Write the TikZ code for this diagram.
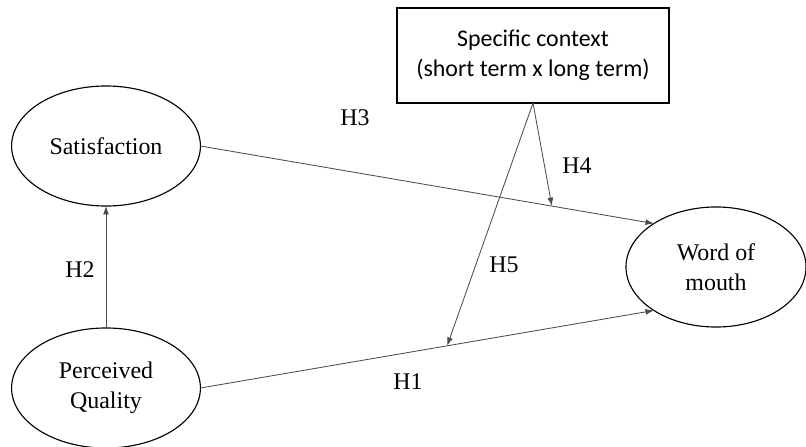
\documentclass[tikz,border=0pt]{standalone}
\usepackage{fontspec}
\setmainfont{Liberation Serif}
\newfontfamily\boxfont{Carlito}
\usetikzlibrary{arrows.meta,shapes.geometric,calc}

\begin{document}
\begin{tikzpicture}[x=0.025cm,y=-0.025cm,
    every node/.style={inner sep=0,outer sep=0},
    construct/.style={ellipse,draw=black,line width=0.8pt,minimum width=4.72cm,minimum height=3cm,
        align=center,font=\fontsize{17}{21.3}\selectfont},
    moderator/.style={rectangle,draw=black,line width=0.8pt,minimum width=6.8cm,minimum height=2.375cm,
        align=center,font=\boxfont\fontsize{17}{21.3}\selectfont},
    hyp/.style={font=\fontsize{17}{20}\selectfont},
    link/.style={draw=black!70,line width=0.6pt,-{Latex[length=6pt,width=4.2pt]}}]
    \useasboundingbox (0,0) rectangle (806,446);
    \node[construct](sat) at (106,146) {Satisfaction};
    \node[construct](pq)  at (106,388) {Perceived\\Quality};
    \node[construct,minimum width=4.5cm](wom) at (716,267) {Word of\\mouth};
    \node[moderator](ctx) at (533,55.5) {Specific context\\(short term x long term)};
    \draw[link] (pq) -- (sat);
    \draw[link] (sat.east) -- coordinate[pos=0.775](m4) (wom.145);
    \draw[link] (pq.east) -- coordinate[pos=0.544](m5) (wom.215);
    \draw[link] (ctx.south) -- (m4);
    \draw[link] (ctx.south) -- (m5);
    \node[hyp](h2) at (80,270)  {H2};
    \node[hyp](h3) at (355,118) {H3};
    \node[hyp](h4) at (577,166) {H4};
    \node[hyp](h5) at (504,265) {H5};
    \node[hyp](h1) at (408,382) {H1};
\end{tikzpicture}
\end{document}
